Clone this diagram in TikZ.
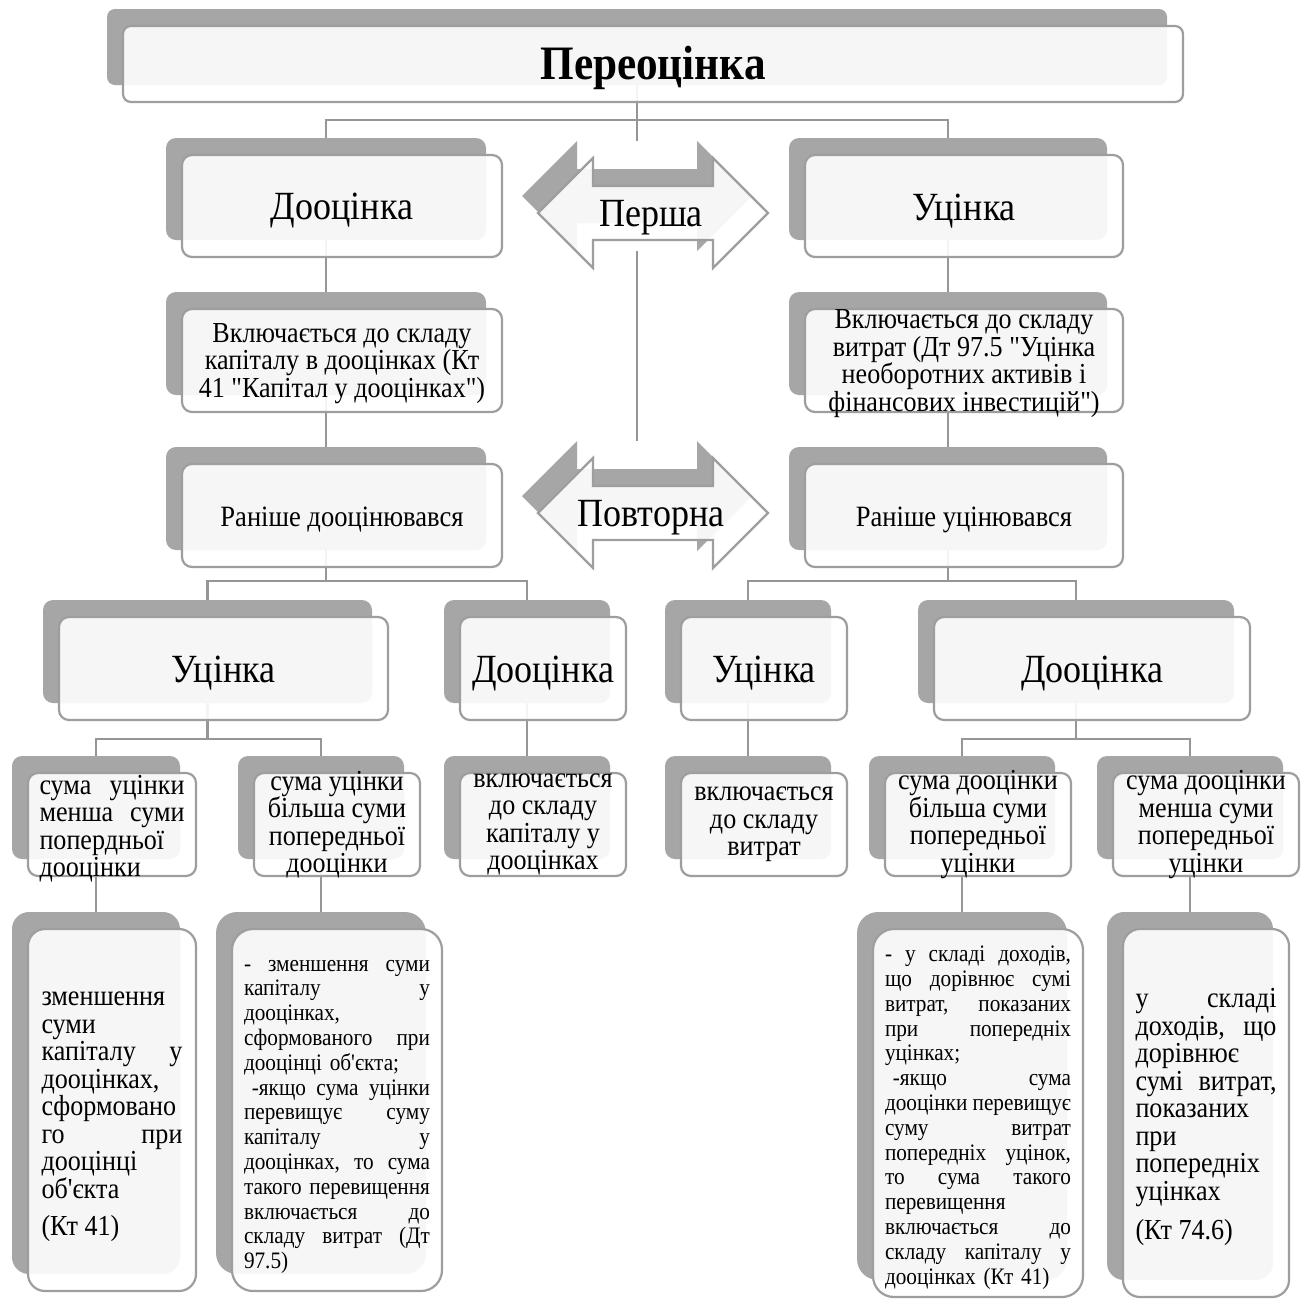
\documentclass[tikz,border=0pt]{standalone}
\usepackage{fontspec}
\setmainfont{Liberation Serif}
\newfontfamily\cond{Liberation Serif}[FakeStretch=0.9]
\pgfdeclarelayer{bg}
\pgfsetlayers{bg,main}
\definecolor{shadc}{RGB}{166,166,166}
\definecolor{edgec}{RGB}{158,158,158}
\definecolor{connc}{RGB}{150,150,150}
\tikzset{
  shad/.style={fill=shadc, draw=none, anchor=north west, inner sep=0pt, outer sep=0pt},
  front/.style={fill=white, fill opacity=0.9, draw=edgec, line width=2.2pt, anchor=north west, inner sep=0pt, outer sep=0pt},
  conn/.style={draw=connc, line width=2.7pt},
  big/.style={font=\cond\fontsize{40pt}{44pt}\selectfont, inner sep=0pt, yshift=-5pt},
  mid/.style={font=\cond\fontsize{29.5pt}{32pt}\selectfont, inner sep=0pt, yshift=-4pt},
  plain/.style={font=\cond\fontsize{29pt}{27.5pt}\selectfont, inner sep=0pt, align=center},
  small/.style={font=\cond\fontsize{23.6pt}{24.8pt}\selectfont, inner sep=0pt},
}
\newcommand\tbox[6]{%
  \node[shad, minimum width=#4pt, minimum height=#5pt, rounded corners=#6pt] (#1s) at (#2,#3) {};
  \node[front, minimum width=#4pt, minimum height=#5pt, rounded corners=#6pt] (#1) at (#2+16,#3+17) {};}
\newcommand\darrow[4]{%
  \fill[shadc] (#2-131,#3-17) -- ++(55,-55) -- ++(0,28) -- ++(120,0) -- ++(0,-28) -- ++(55,55) -- ++(-55,55) -- ++(0,-28) -- ++(-120,0) -- ++(0,28) -- cycle;
  \filldraw[fill=white, fill opacity=0.9, draw=edgec, line width=2.2pt] (#2-115,#3) -- ++(55,-55) -- ++(0,28) -- ++(120,0) -- ++(0,-28) -- ++(55,55) -- ++(-55,55) -- ++(0,-28) -- ++(-120,0) -- ++(0,28) -- cycle;
  \coordinate (#1top) at (#2-16,#3-72);
  \coordinate (#1bot) at (#2-16,#3+38);
  \node[big] (#1) at (#2-2,#3) {#4};}
\newcommand\jl[1]{\par\noindent\hbox to\hsize{#1}\par}
\begin{document}
\begin{tikzpicture}[x=1pt,y=-1pt]
\begin{pgfonlayer}{bg}
\fill[white] (0,0) rectangle (1308,1302);
\end{pgfonlayer}
\useasboundingbox (0,0) rectangle (1308,1302);

% boxes
\tbox{T}{107}{9}{1060}{76}{8}
\tbox{L2L}{166}{138}{320}{102}{10}
\tbox{L2R}{789}{138}{318}{102}{10}
\tbox{L3L}{166}{292}{320}{103}{10}
\tbox{L3R}{789}{292}{318}{103}{10}
\tbox{L4L}{166}{447}{320}{103}{10}
\tbox{L4R}{789}{447}{318}{103}{10}
\tbox{L5a}{43}{600}{329}{103}{10}
\tbox{L5b}{444}{600}{166}{103}{10}
\tbox{L5c}{665}{600}{166}{103}{10}
\tbox{L5d}{918}{600}{316}{103}{10}
\tbox{c1}{12}{756}{168}{103}{10}
\tbox{c2}{238}{756}{166}{103}{10}
\tbox{c3}{444}{756}{166}{103}{10}
\tbox{c4}{665}{756}{166}{103}{10}
\tbox{c5}{869}{756}{186}{103}{10}
\tbox{c6}{1097}{756}{186}{103}{10}
\tbox{cA}{12}{912}{168}{362}{17}
\tbox{cB}{216}{912}{210}{362}{21}
\tbox{cC}{857}{912}{210}{368}{21}
\tbox{cD}{1107}{912}{166}{368}{17}

% double arrows
\darrow{A1}{653}{213}{Перша}
\darrow{A2}{653}{513}{Повторна}

% texts
\node[font=\cond\bfseries\fontsize{48pt}{52pt}\selectfont, inner sep=0pt, yshift=-4pt] (Tt) at (T.center) {Переоцінка};
\node[big] (L2Lt) at (L2L.center) {Дооцінка};
\node[big] (L2Rt) at (L2R.center) {Уцінка};
\node[plain, yshift=-3pt] (L3Lt) at (L3L.center) {Включається до складу\\капіталу в дооцінках (Кт\\41 "Капітал у дооцінках")};
\node[plain, yshift=-3pt] (L3Rt) at (L3R.center) {Включається до складу\\витрат (Дт 97.5 "Уцінка\\необоротних активів і\\фінансових інвестицій")};
\node[mid] (L4Lt) at (L4L.center) {Раніше дооцінювався};
\node[mid] (L4Rt) at (L4R.center) {Раніше уцінювався};
\node[big] (L5at) at (L5a.center) {Уцінка};
\node[big] (L5bt) at (L5b.center) {Дооцінка};
\node[big] (L5ct) at (L5c.center) {Уцінка};
\node[big] (L5dt) at (L5d.center) {Дооцінка};
\node[plain, text width=145pt, align=none] (c1t) at (c1.center) {\jl{сума\hfill уцінки}\jl{менша\hfill суми}\jl{попердньої\hfill}\jl{дооцінки\hfill}};
\node[plain] (c2t) at (c2.center) {сума уцінки\\більша суми\\попередньої\\дооцінки};
\node[plain] (c3t) at (c3.center) {включається\\до складу\\капіталу у\\дооцінках};
\node[plain] (c4t) at (c4.center) {включається\\до складу\\витрат};
\node[plain] (c5t) at (c5.center) {сума дооцінки\\більша суми\\попередньої\\уцінки};
\node[plain] (c6t) at (c6.center) {сума дооцінки\\менша суми\\попередньої\\уцінки};
\node[plain, text width=141pt, align=none] (cAt) at (cA.center) {\jl{зменшення\hfill}\jl{суми\hfill}\jl{капіталу\hfill у}\jl{дооцінках,\hfill}\jl{сформовано\hfill}\jl{го\hfill при}\jl{дооцінці\hfill}\jl{об'єкта\hfill}\vspace{10pt}\jl{(Кт 41)\hfill}};
\node[small, text width=186pt] (cBt) at (cB.center) {\jl{-\hfill зменшення\hfill суми}\jl{капіталу\hfill у}\jl{дооцінках,\hfill}\jl{сформованого\hfill при}\jl{дооцінці об'єкта;\hfill}\jl{\ -якщо\hfill сума\hfill уцінки}\jl{перевищує\hfill суму}\jl{капіталу\hfill у}\jl{дооцінках,\hfill то\hfill сума}\jl{такого\hfill перевищення}\jl{включається\hfill до}\jl{складу\hfill витрат\hfill (Дт}\jl{97.5)\hfill}};
\node[small, text width=186pt] (cCt) at (cC.center) {\jl{-\hfill у\hfill складі\hfill доходів,}\jl{що\hfill дорівнює\hfill сумі}\jl{витрат,\hfill показаних}\jl{при\hfill попередніх}\jl{уцінках;\hfill}\jl{\ -якщо\hfill сума}\jl{дооцінки\hfill перевищує}\jl{суму\hfill витрат}\jl{попередніх\hfill уцінок,}\jl{то\hfill сума\hfill такого}\jl{перевищення\hfill}\jl{включається\hfill до}\jl{складу\hfill капіталу\hfill у}\jl{дооцінках (Кт 41)\hfill}};
\node[plain, text width=141pt, align=none] (cDt) at (cD.center) {\jl{у\hfill складі}\jl{доходів,\hfill що}\jl{дорівнює\hfill}\jl{сумі\hfill витрат,}\jl{показаних\hfill}\jl{при\hfill}\jl{попередніх\hfill}\jl{уцінках\hfill}\vspace{12pt}\jl{(Кт 74.6)\hfill}};

% connectors
\begin{pgfonlayer}{bg}
\coordinate (y120) at (0,120);
\coordinate (y581) at (0,581);
\coordinate (y739) at (0,739);
\draw[conn] (Ts.south) -- (Ts.south |- y120);
\draw[conn] (Ts.south |- y120) -| (L2Ls.north);
\draw[conn] (Ts.south |- y120) -| (L2Rs.north);
\draw[conn] (Ts.south |- y120) -- (A1top);
\draw[conn] (A1bot) -- (A2top);
\draw[conn] (L2Ls.south) -- (L3Ls.north);
\draw[conn] (L3Ls.south) -- (L4Ls.north);
\draw[conn] (L2Rs.south) -- (L3Rs.north);
\draw[conn] (L3Rs.south) -- (L4Rs.north);
\draw[conn] (L4Ls.south) -- (L4Ls.south |- y581) -| (L5as.north);
\draw[conn] (L4Ls.south |- y581) -| (L5bs.north);
\draw[conn] (L4Rs.south) -- (L4Rs.south |- y581) -| (L5cs.north);
\draw[conn] (L4Rs.south |- y581) -| (L5ds.north);
\draw[conn] (L5as.south) -- (L5as.south |- y739) -| (c1s.north);
\draw[conn] (L5as.south |- y739) -| (c2s.north);
\draw[conn] (L5bs.south) -- (c3s.north);
\draw[conn] (L5cs.south) -- (c4s.north);
\draw[conn] (L5ds.south) -- (L5ds.south |- y739) -| (c5s.north);
\draw[conn] (L5ds.south |- y739) -| (c6s.north);
\draw[conn] (c1s.south) -- (cAs.north);
\draw[conn] (c2s.south) -- (cBs.north);
\draw[conn] (c5s.south) -- (cCs.north);
\draw[conn] (c6s.south) -- (cDs.north);
\end{pgfonlayer}
\end{tikzpicture}
\end{document}
